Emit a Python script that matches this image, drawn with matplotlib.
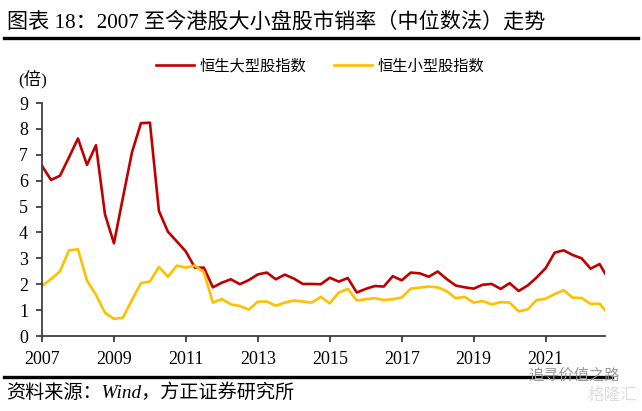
import matplotlib.pyplot as plt
import numpy as np
from matplotlib.lines import Line2D

plt.rcParams['font.family'] = ['Liberation Serif', 'Noto Sans CJK SC']

# quarterly points from 2007 Q1, last point is a partial quarter
QUARTER_START = 2007.0
LAST_X = 2022.65

large_cap = [6.57, 6.03, 6.19, 6.90, 7.63, 6.61, 7.37, 4.70, 3.58, 5.35, 7.09, 8.22,
             8.24, 4.83, 4.03, 3.65, 3.26, 2.64, 2.64, 1.88, 2.06, 2.19, 2.00, 2.16,
             2.38, 2.45, 2.19, 2.37, 2.22, 2.01, 2.01, 2.00,
             2.25, 2.10, 2.24, 1.68, 1.82, 1.93, 1.91, 2.31, 2.15, 2.45, 2.42, 2.29,
             2.49, 2.20, 1.95, 1.88, 1.83, 1.98, 2.01, 1.82, 2.04, 1.74, 1.95, 2.26,
             2.62, 3.22, 3.31, 3.13, 3.00, 2.60, 2.78, 2.42]
small_cap = [1.93, 2.20, 2.50, 3.31, 3.35, 2.14, 1.59, 0.90, 0.66, 0.71, 1.39, 2.04,
             2.11, 2.67, 2.29, 2.72, 2.64, 2.72, 2.46, 1.29, 1.43, 1.22, 1.16, 1.02,
             1.33, 1.33, 1.17, 1.29, 1.37, 1.33, 1.29, 1.51,
             1.26, 1.68, 1.82, 1.37, 1.42, 1.46, 1.39, 1.42, 1.49, 1.83, 1.87, 1.91,
             1.88, 1.73, 1.46, 1.51, 1.29, 1.35, 1.22, 1.31, 1.29, 0.95, 1.03, 1.39,
             1.44, 1.62, 1.77, 1.48, 1.47, 1.24, 1.25, 1.00]
series_names = ['恒生大型股指数', '恒生小型股指数']
year_ticks = [2007, 2009, 2011, 2013, 2015, 2017, 2019, 2021]

x = np.append(QUARTER_START + 0.25*np.arange(len(large_cap)-1), LAST_X)

fig = plt.figure(figsize=(6.42, 4.11), dpi=100)
ax = fig.add_axes([42/642, 1-336/411, 563/642, 233/411])

ax.plot(x, large_cap, color='#C00000', lw=1.9, label=series_names[0])
ax.plot(x, small_cap, color='#FFC000', lw=1.9, label=series_names[1])

ax.set_xlim(QUARTER_START, LAST_X)
ax.set_ylim(0, 9)
ax.set_yticks(range(10))
ax.set_xticks(year_ticks)
ax.set_xticklabels([str(y) for y in year_ticks])
for s in ['top', 'right']:
    ax.spines[s].set_visible(False)
for s in ['left', 'bottom']:
    ax.spines[s].set_color('#404040')
    ax.spines[s].set_linewidth(1.3)
ax.tick_params(colors='#404040', labelcolor='black', labelsize=13, length=4, width=1.3)
ax.tick_params(axis='x', pad=7)
ax.tick_params(axis='y', pad=6)

leg = fig.legend(loc='center', bbox_to_anchor=(320/642, 1-66/411), ncol=2, frameon=False,
                 fontsize=11, handlelength=2.5, columnspacing=1.8, handletextpad=0.35,
                 borderpad=0, borderaxespad=0)

fig.text(18/642, 1-79/411, '(倍)', fontsize=12.5, va='center')

# title and rules
fig.text(7/642, 1-22/411, '图表 18：2007 至今港股大小盘股市销率（中位数法）走势',
         fontsize=15.2, va='center')
fig.add_artist(Line2D([4/642, 638/642], [1-38/411, 1-38/411], color='black', lw=2.4))
fig.add_artist(Line2D([4/642, 612/642], [1-377/411, 1-377/411], color='black', lw=2.4))
fig.text(6/642, 1-393/411, '资料来源：Wind，方正证券研究所', fontsize=13.8,
         style='italic', va='center')
fig.text(528/642, 1-376/411, '追寻价值之路', fontsize=11, color='#999999',
         ha='left', va='center')
fig.text(637/642, 1-396/411, '格隆汇', fontsize=12, color='#dddddd',
         ha='right', va='center')

fig.savefig('out.png', dpi=100)
